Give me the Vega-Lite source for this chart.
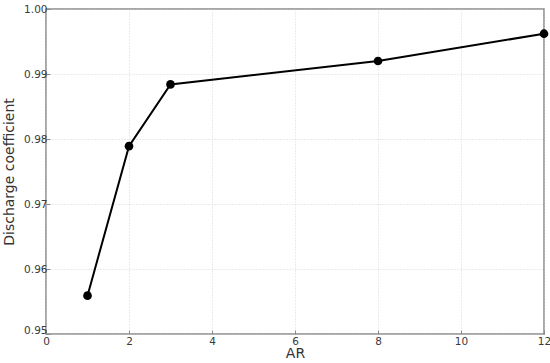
{
  "$schema": "https://vega.github.io/schema/vega-lite/v6.json",
  "width": 498,
  "height": 325,
  "autosize": {"type": "none"},
  "padding": {"left": 46, "top": 9, "right": 6, "bottom": 29},
  "background": "white",
  "config": {
    "font": "DejaVu Sans",
    "view": {"stroke": "#8a8a8a", "strokeWidth": 1.5},
    "axis": {
      "labelFont": "DejaVu Sans",
      "titleFont": "DejaVu Sans",
      "labelFontSize": 10.5,
      "labelColor": "#3a3a3a",
      "titleFontSize": 14,
      "titleFontWeight": "normal",
      "titleColor": "#333",
      "domain": false,
      "tickColor": "#8a8a8a",
      "tickSize": -4,
      "gridColor": "#cccccc",
      "gridDash": [1, 2],
      "gridWidth": 0.8
    }
  },
  "data": {
    "values": [
      {"AR": 1, "Cd": 0.9559},
      {"AR": 2, "Cd": 0.9789},
      {"AR": 3, "Cd": 0.9884},
      {"AR": 8, "Cd": 0.9920},
      {"AR": 12, "Cd": 0.9962}
    ]
  },
  "mark": {"type": "line", "color": "black", "strokeWidth": 2, "point": {"color": "black", "size": 75, "filled": true, "opacity": 1}},
  "encoding": {
    "x": {
      "field": "AR", "type": "quantitative",
      "scale": {"domain": [0, 12], "nice": false},
      "axis": {"values": [0, 2, 4, 6, 8, 10, 12], "title": "AR", "labelPadding": 6, "titlePadding": 0, "labelFlush": false}
    },
    "y": {
      "field": "Cd", "type": "quantitative",
      "scale": {"domain": [0.95, 1.0], "nice": false, "zero": false},
      "axis": {"values": [0.95, 0.96, 0.97, 0.98, 0.99, 1.0], "format": ".2f", "title": "Discharge coefficient", "labelPadding": 3, "titlePadding": 7, "labelFlush": false,
        "labelOffset": {"condition": {"test": "datum.value < 0.951", "value": -4}, "value": 0}}
    }
  }
}
